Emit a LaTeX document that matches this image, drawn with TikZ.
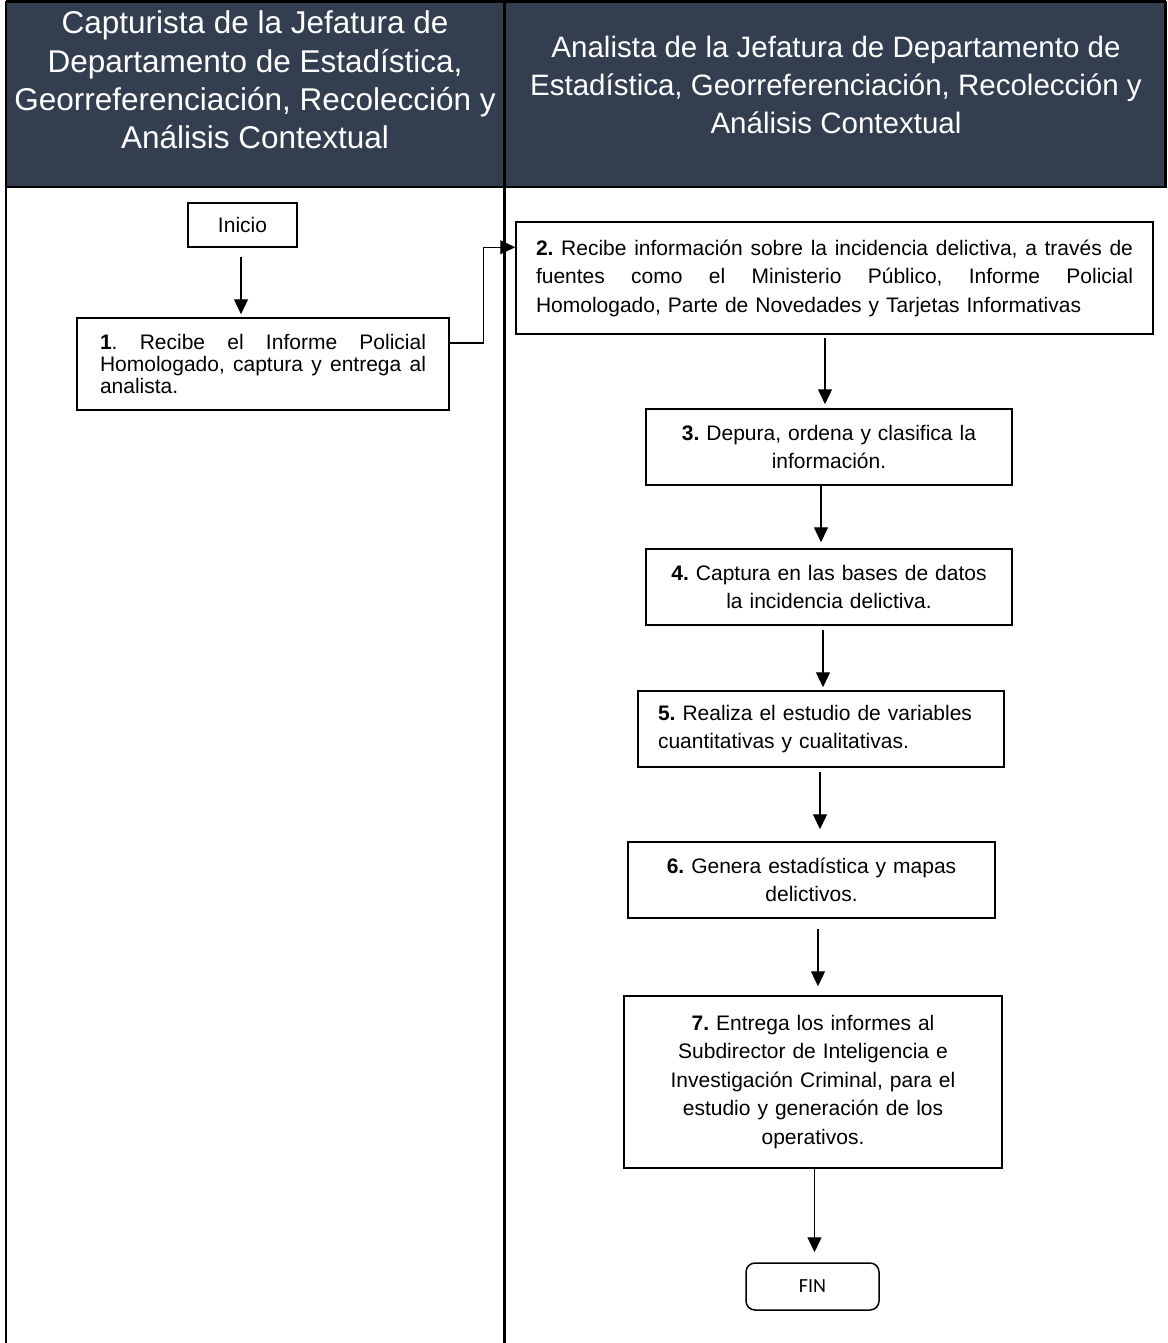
\documentclass[tikz,border=0pt]{standalone}
\usepackage{fontspec}
\setmainfont{Liberation Sans}
\newfontfamily\finfont{Carlito}
\usetikzlibrary{arrows.meta,calc}
\definecolor{hdr}{RGB}{51,63,80}
\frenchspacing
\newcommand\jline[2]{\leavevmode\hbox to #1{#2}}
\begin{document}
\begin{tikzpicture}[x=1pt,y=-1pt,
  lane/.style={line width=2.4pt},
  box/.style={draw, line width=1.5pt, inner ysep=0pt, inner xsep=20pt, font=\fontsize{21}{28.5}\selectfont},
  arr/.style={-{Triangle[width=14pt,length=15pt]}, line width=1.3pt},
  hdrtext/.style={text=white, align=center, inner sep=0pt}]
\useasboundingbox (0,0) rectangle (1167,1343);
% header
\fill[hdr] (6,2) rectangle (1165,187);
\draw[lane] (6,1.5) -- (1166,1.5);
\draw[lane] (1165.5,1.5) -- (1165.5,187);
\draw[lane] (6,187) -- (1167,187);
\draw[lane] (6,1.5) -- (6,1343);
\draw[lane] (504.5,1.5) -- (504.5,1343);
\node[hdrtext, font=\fontsize{31.5}{38.3}\selectfont] (hl) at (255,80)
  {Capturista de la Jefatura de\\ Departamento de Estadística,\\ Georreferenciación, Recolección y\\ Análisis Contextual};
\node[hdrtext, font=\fontsize{29.5}{38.3}\selectfont] (hr) at (836,85)
  {Analista de la Jefatura de Departamento de\\ Estadística, Georreferenciación, Recolección y\\ Análisis Contextual};
% boxes
\node[box, minimum width=109pt, minimum height=44pt, font=\fontsize{21}{24}\selectfont] (ini) at (242.5,225) {Inicio};
\node[box, minimum width=372pt, minimum height=92pt, text width=326pt, inner xsep=23pt, align=left,
      font=\fontsize{21}{22}\selectfont] (b1) at (263,364)
  {\jline{326pt}{\textbf{1}.\hfill Recibe\hfill el\hfill Informe\hfill Policial}\\
   \jline{326pt}{Homologado,\hfill captura\hfill y\hfill entrega\hfill al}\\
   analista.};
\node[box, minimum width=637pt, minimum height=112pt, text width=597pt, align=left] (b2) at (834.5,278)
  {\jline{597pt}{\textbf{2.}\hfill Recibe\hfill información\hfill sobre\hfill la\hfill incidencia\hfill delictiva,\hfill a\hfill través\hfill de}\\
   \jline{597pt}{fuentes\hfill como\hfill el\hfill Ministerio\hfill Público,\hfill Informe\hfill Policial}\\
   Homologado, Parte de Novedades y Tarjetas Informativas};
\node[box, minimum width=366pt, minimum height=76pt, text width=326pt, align=center] (b3) at (829,447)
  {\textbf{3.} Depura, ordena y clasifica la\\ información.};
\node[box, minimum width=366pt, minimum height=76pt, text width=326pt, align=center] (b4) at (829,587)
  {\textbf{4.} Captura en las bases de datos\\ la incidencia delictiva.};
\node[box, minimum width=366pt, minimum height=76pt, text width=326pt, align=left] (b5) at (821,729)
  {\textbf{5.} Realiza el estudio de variables\\ cuantitativas y cualitativas.};
\node[box, minimum width=367pt, minimum height=76pt, text width=327pt, align=center] (b6) at (811.5,880)
  {\textbf{6.} Genera estadística y mapas\\ delictivos.};
\node[box, minimum width=378pt, minimum height=172pt, text width=338pt, align=center] (b7) at (813,1082)
  {\textbf{7.} Entrega los informes al\\ Subdirector de Inteligencia e\\ Investigación Criminal, para el\\ estudio y generación de los\\ operativos.};
\node[draw, rounded corners=9pt, line width=1.5pt, minimum width=133pt, minimum height=47pt,
      font=\finfont\fontsize{20}{24}\selectfont] (fin) at (812.5,1286.5) {FIN};
% connectors
\draw[arr, shorten <=9pt, shorten >=3pt] ([xshift=-1.5pt]ini.south) -- ([xshift=-1.5pt]ini.south |- b1.north);
\draw[arr] ([yshift=21pt]b1.east) -- ++(34,0) |- ([yshift=-26pt]b2.north west);
\draw[arr, shorten <=3pt, shorten >=4pt] ([xshift=-9.5pt]b2.south) -- ([xshift=-9.5pt]b2.south |- b3.north);
\draw[arr, shorten >=6pt] ([xshift=-8pt]b3.south) -- ([xshift=-8pt]b3.south |- b4.north);
\draw[arr, shorten <=4pt, shorten >=3pt] ([xshift=-6pt]b4.south) -- ([xshift=-6pt]b4.south |- b5.north);
\draw[arr, shorten <=4pt, shorten >=12pt] ([xshift=-1pt]b5.south) -- ([xshift=-1pt]b5.south |- b6.north);
\draw[arr, shorten <=10pt, shorten >=9pt] ([xshift=6.5pt]b6.south) -- ([xshift=6.5pt]b6.south |- b7.north);
\draw[arr, shorten >=10pt] ([xshift=1.5pt]b7.south) -- ([xshift=1.5pt]b7.south |- fin.north);
\end{tikzpicture}
\end{document}
